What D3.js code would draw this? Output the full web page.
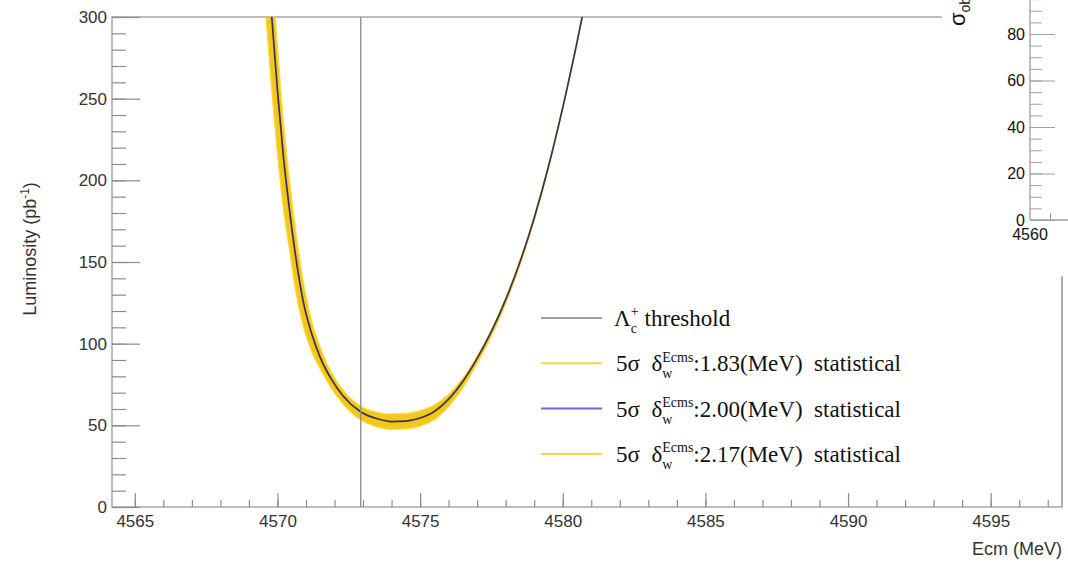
<!DOCTYPE html>
<html>
<head>
<meta charset="utf-8">
<script src="https://cdn.jsdelivr.net/npm/d3@7"></script>
<style>
  body { margin: 0; background: #fff; }
  svg { display: block; }
  .tick text { font-family: "Liberation Sans", Arial, sans-serif; }
</style>
</head>
<body>
<svg id="chart" width="1068" height="563"></svg>
<script>
// values
let energy   = [4569.4, 4569.6, 4569.8, 4570.0, 4570.2, 4570.4, 4570.65, 4570.9, 4571.2, 4571.5, 4571.9, 4572.3, 4572.9, 4573.5, 4574.0, 4574.5, 4575.0, 4575.5, 4576.0, 4576.5, 4577.0, 4577.5, 4578.0, 4578.5, 4579.0, 4579.5, 4580.0, 4580.5, 4581.0];
let lumi183  = [350, 300, 255, 216, 184, 160, 131, 111, 95, 84.5, 72.5, 63, 53.5, 49, 47.5, 47.8, 49.5, 53.5, 61.5, 73, 88, 104.5, 124.5, 148, 175.5, 207.5, 244, 284, 327];
let lumi200  = [405, 350, 300, 255, 216, 185, 152, 126, 106, 91.5, 78, 68, 58.5, 54, 52.3, 52.6, 54.5, 58.5, 66, 77, 91, 107.5, 127, 150, 177, 208.5, 244.5, 284.5, 327.5];
let lumi217  = [440, 383, 330, 282, 238, 204, 168, 139, 114, 98, 82, 71.5, 62, 58, 57, 57.3, 59, 62.5, 69, 79, 92.5, 108.5, 128, 151, 178, 209.5, 245.5, 285.5, 328.5];
let threshold = 4572.92;   // 2 x m(Lambda_c+)
let xMajor = [4565, 4570, 4575, 4580, 4585, 4590, 4595];
let yMajor = [0, 50, 100, 150, 200, 250, 300];
let insetMajor = [0, 20, 40, 60, 80];
let legendRows = [
    {key: 'thr', color: '#a0a0a0'},
    {key: '1.83', color: '#f7d54a'},
    {key: '2.00', color: '#6b6bd8'},
    {key: '2.17', color: '#f7d54a'}
];

let svg, x, y;
let frame = {left: 112, right: 1062, top: 17, bottom: 507};

// put a piece of text with a stacked super/subscript, returns end x
function stacked(g, x0, base, main, sup, sub, size, small) {
    let t = g.append('text').attr('x', x0).attr('y', base).attr('font-size', size).text(main);
    let x1 = x0 + t.node().getComputedTextLength();
    let s1 = g.append('text').attr('x', x1).attr('y', base - size * 0.42).attr('font-size', small).text(sup);
    let s2 = g.append('text').attr('x', x1).attr('y', base + size * 0.3).attr('font-size', small).text(sub);
    return x1 + Math.max(s1.node().getComputedTextLength(), s2.node().getComputedTextLength());
}

function draw() {
    svg = d3.select('#chart');

    x = d3.scaleLinear().domain([4564.2, 4597.5]).range([frame.left, frame.right]);
    y = d3.scaleLinear().domain([0, 300]).range([frame.bottom, frame.top]);

    svg.append('defs').append('clipPath').attr('id', 'clip')
        .append('rect')
        .attr('x', frame.left).attr('y', frame.top)
        .attr('width', frame.right - frame.left).attr('height', frame.bottom - frame.top);

    // frame
    svg.append('rect')
        .attr('x', frame.left).attr('y', frame.top)
        .attr('width', frame.right - frame.left).attr('height', frame.bottom - frame.top)
        .attr('fill', 'none').attr('stroke', '#a8a8a8').attr('stroke-width', 1.5);

    // x axis
    let xMinorAxis = d3.axisBottom(x).tickValues(d3.range(4565, 4598, 1)).tickSizeInner(-7).tickSizeOuter(0).tickFormat('');
    let xMajorAxis = d3.axisBottom(x).tickValues(xMajor).tickSizeInner(-14).tickSizeOuter(0).tickPadding(8).tickFormat(d3.format('d'));
    [xMinorAxis, xMajorAxis].forEach(ax => {
        let g = svg.append('g').attr('transform', `translate(0,${frame.bottom})`).call(ax);
        g.select('.domain').remove();
        g.selectAll('line').attr('stroke', '#8c8c8c').attr('stroke-width', 1.2);
        g.selectAll('text').attr('font-size', 17).attr('fill', '#333');
    });

    // y axis
    let yMinorAxis = d3.axisLeft(y).tickValues(d3.range(0, 301, 10)).tickSizeInner(-14).tickSizeOuter(0).tickFormat('');
    let yMajorAxis = d3.axisLeft(y).tickValues(yMajor).tickSizeInner(-28).tickSizeOuter(0).tickPadding(5).tickFormat(d3.format('d'));
    [yMinorAxis, yMajorAxis].forEach(ax => {
        let g = svg.append('g').attr('transform', `translate(${frame.left},0)`).call(ax);
        g.select('.domain').remove();
        g.selectAll('line').attr('stroke', '#8c8c8c').attr('stroke-width', 1.2);
        g.selectAll('text').attr('font-size', 17).attr('fill', '#333');
    });

    // axis titles
    svg.append('text')
        .attr('x', frame.right).attr('y', 555)
        .attr('text-anchor', 'end')
        .attr('font-family', '"Liberation Sans", Arial, sans-serif')
        .attr('font-size', 18).attr('fill', '#333')
        .text('Ecm (MeV)');
    let yt = svg.append('text')
        .attr('transform', 'translate(36,249) rotate(-90)')
        .attr('text-anchor', 'middle')
        .attr('font-family', '"Liberation Sans", Arial, sans-serif')
        .attr('font-size', 18).attr('fill', '#333');
    yt.append('tspan').text('Luminosity (pb');
    yt.append('tspan').attr('dy', -7).attr('font-size', 12).text('-1');
    yt.append('tspan').attr('dy', 7).text(')');

    // curves
    let pts183 = energy.map((e, i) => [e, lumi183[i]]);
    let pts200 = energy.map((e, i) => [e, lumi200[i]]);
    let pts217 = energy.map((e, i) => [e, lumi217[i]]);
    let line = d3.line().x(d => x(d[0])).y(d => y(d[1])).curve(d3.curveMonotoneX);
    let band = d3.area()
        .x(d => x(d[0]))
        .y0(d => y(d[1]))
        .y1(d => y(d[2]))
        .curve(d3.curveMonotoneX);

    let plot = svg.append('g').attr('clip-path', 'url(#clip)');
    plot.append('path')
        .datum(energy.map((e, i) => [e, lumi183[i], lumi217[i]]))
        .attr('d', band)
        .attr('fill', '#f2c200').attr('opacity', 0.9);
    plot.append('path').datum(pts183).attr('d', line)
        .attr('fill', 'none').attr('stroke', '#ffd93a').attr('stroke-width', 1.2);
    plot.append('path').datum(pts217).attr('d', line)
        .attr('fill', 'none').attr('stroke', '#ffdd55').attr('stroke-width', 1.2);
    plot.append('path').datum(pts200).attr('d', line)
        .attr('fill', 'none').attr('stroke', '#37325c').attr('stroke-width', 1.7);

    // threshold line
    svg.append('line')
        .attr('x1', x(threshold)).attr('x2', x(threshold))
        .attr('y1', y(0)).attr('y2', y(300))
        .attr('stroke', '#8f8f8f').attr('stroke-width', 1.4);

    // legend
    let lg = svg.append('g').attr('font-family', '"Liberation Serif", "Times New Roman", serif').attr('fill', '#111');
    legendRows.forEach((r, i) => {
        let ry = 318 + i * 45.3;
        lg.append('line')
            .attr('x1', 541).attr('x2', 602).attr('y1', ry).attr('y2', ry)
            .attr('stroke', r.color).attr('stroke-width', 2);
        let base = ry + 8;
        if (r.key === 'thr') {
            let xe = stacked(lg, 614, base, '\u039B', '+', 'c', 23, 14);
            lg.append('text').attr('x', xe + 6).attr('y', base).attr('font-size', 23).text('threshold');
        } else {
            let xe = stacked(lg, 616, base, '5\u03C3\u2002\u03B4', 'Ecms', 'w', 23, 14);
            lg.append('text').attr('x', xe).attr('y', base).attr('font-size', 23)
                .attr('xml:space', 'preserve').style('white-space', 'pre')
                .text(':' + r.key + '(MeV)  statistical');
        }
    });

    // piece of the other canvas lying over the top-right corner
    let inset = svg.append('g');
    inset.append('rect').attr('x', 942).attr('y', 0).attr('width', 126).attr('height', 276).attr('fill', '#fff');
    let yi = d3.scaleLinear().domain([0, 80]).range([220, 34]);
    let xi = d3.scaleLinear().domain([4560, 4561]).range([1030, 1050]);
    let gi = inset.append('g').attr('transform', 'translate(1030,0)')
        .call(d3.axisLeft(yi).tickValues(d3.range(0, 96, 5)).tickSizeInner(-12).tickSizeOuter(0).tickFormat(''));
    gi.selectAll('line').attr('stroke', '#a0a0a0');
    gi.select('.domain').remove();
    let gi2 = inset.append('g').attr('transform', 'translate(1030,0)')
        .call(d3.axisLeft(yi).tickValues(insetMajor).tickSizeInner(-25).tickSizeOuter(0).tickPadding(5));
    gi2.selectAll('line').attr('stroke', '#a0a0a0');
    gi2.selectAll('text').attr('font-size', 16).attr('fill', '#111');
    gi2.select('.domain').remove();
    inset.append('line').attr('x1', 1030).attr('x2', 1030).attr('y1', 0).attr('y2', 220).attr('stroke', '#a0a0a0').attr('stroke-width', 1.3);
    inset.append('line').attr('x1', 1030).attr('x2', 1068).attr('y1', 220).attr('y2', 220).attr('stroke', '#a0a0a0').attr('stroke-width', 1.3);
    let gx = inset.append('g').attr('transform', 'translate(0,220)')
        .call(d3.axisBottom(xi).tickValues([4561]).tickSizeInner(-7).tickSizeOuter(0).tickFormat(''));
    gx.select('.domain').remove();
    gx.selectAll('line').attr('stroke', '#a0a0a0');
    inset.append('text').attr('x', xi(4560)).attr('y', 240).attr('text-anchor', 'middle')
        .attr('font-family', '"Liberation Sans", Arial, sans-serif').attr('font-size', 16).attr('fill', '#111')
        .text('4560');
    let st = inset.append('text').attr('transform', 'translate(965,26) rotate(-90)')
        .attr('font-family', '"Liberation Sans", Arial, sans-serif').attr('font-size', 22).attr('fill', '#111');
    st.append('tspan').text('\u03C3');
    st.append('tspan').attr('font-size', 14).attr('dy', 5).text('obs');
    // the main frame shows again below the overlay
    inset.append('line').attr('x1', frame.right).attr('x2', frame.right).attr('y1', 278).attr('y2', frame.bottom)
        .attr('stroke', '#a8a8a8').attr('stroke-width', 1.5);
}

function main() {
    draw();
}

main()
</script>
</body>
</html>
